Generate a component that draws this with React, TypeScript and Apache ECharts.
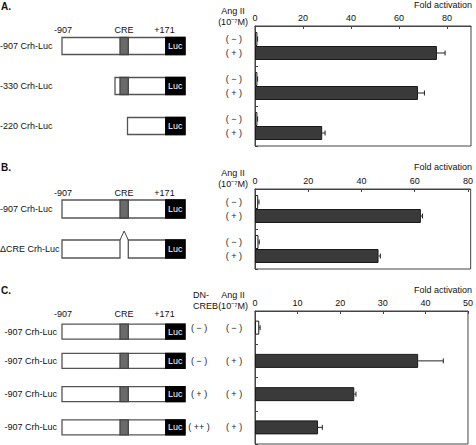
import React, { useEffect, useRef } from 'react';
import * as echarts from 'echarts';

const FONT = "'Liberation Sans', Arial, Helvetica, sans-serif";

// ---- Panel A data ----
const constructsA = ['-907 Crh-Luc', '-330 Crh-Luc', '-220 Crh-Luc'];
const angMinusA = [1.0, 1.0, 1.0];
const angMinusErrA = [0.1, 0.1, 0.1];
const angPlusA = [75.8, 67.9, 28.0];
const angPlusErrA = [3.4, 2.7, 1.2];

// ---- Panel B data ----
const constructsB = ['-907 Crh-Luc', '\u0394CRE Crh-Luc'];
const angMinusB = [1.2, 1.3];
const angMinusErrB = [0.3, 0.3];
const angPlusB = [62.3, 46.4];
const angPlusErrB = [0.6, 0.7];

// ---- Panel C data ----
const constructsC = ['-907 Crh-Luc', '-907 Crh-Luc', '-907 Crh-Luc', '-907 Crh-Luc'];
const dnCrebC = ['( \u2212 )', '( \u2212 )', '( + )', '( ++ )'];
const angIIC = ['( \u2212 )', '( + )', '( + )', '( + )'];
const valuesC = [1.0, 38.3, 23.3, 14.8];
const errC = [0.2, 5.9, 0.4, 1.0];

const MINUS = '( \u2212 )';
const PLUS = '( + )';
const DARK = '#3a3a3a';
const AXIS = '#444';

// layout (pixels)
const GL = 255;
const GW = 216;
const GA = { top: 26, height: 120 };
const GB = { top: 189, height: 80 };
const GC = { top: 311, height: 133 };
const BAR_W = 14;

const X_FULL = 62;
const X_END = 185;
const CRE_X0 = 120;
const CRE_X1 = 128.3;
const LUC_X0 = 165.7;

function centers(g: { top: number; height: number }, n: number) {
  return Array.from({ length: n }, (_, i) => g.top + (g.height / n) * (i + 0.5));
}

function txt(x: number, y: number, text: string, opts: any = {}) {
  return {
    type: 'text',
    x,
    y,
    silent: true,
    style: {
      text,
      fill: opts.fill || '#111',
      fontSize: opts.fontSize || 9,
      fontFamily: FONT,
      fontWeight: opts.fontWeight || 'normal',
      align: opts.align || 'center',
      verticalAlign: 'middle',
    },
  };
}

function rect(x: number, y: number, w: number, h: number, fill: string, stroke: string) {
  return {
    type: 'rect',
    silent: true,
    shape: { x, y, width: w, height: h },
    style: { fill, stroke, lineWidth: 1.3 },
  };
}

function construct(yc: number, h: number, startX: number, hasCRE: boolean, deleted = false) {
  const top = yc - h / 2;
  const els: any[] = [];
  if (!deleted) {
    els.push(rect(startX, top, X_END - startX, h, '#fff', '#555'));
    if (hasCRE) els.push(rect(CRE_X0, top, CRE_X1 - CRE_X0, h, '#6a6a6a', '#444'));
  } else {
    els.push(rect(X_FULL, top, CRE_X0 - X_FULL, h, '#fff', '#555'));
    els.push(rect(CRE_X1, top, X_END - CRE_X1, h, '#fff', '#555'));
    els.push({
      type: 'polyline',
      silent: true,
      shape: { points: [[CRE_X0, top], [(CRE_X0 + CRE_X1) / 2, top - 9], [CRE_X1, top]] },
      style: { stroke: '#444', lineWidth: 1, fill: 'none' },
    });
  }
  els.push(rect(LUC_X0, top, X_END - LUC_X0, h, '#000', '#000'));
  els.push(txt((LUC_X0 + X_END) / 2, yc, 'Luc', { fill: '#fff', fontSize: 9 }));
  return els;
}

function errorSeries(xi: number, data: number[][]) {
  return {
    type: 'custom',
    xAxisIndex: xi,
    yAxisIndex: xi,
    z: 10,
    silent: true,
    data,
    encode: { x: 0, y: 1 },
    renderItem: (params: any, api: any) => {
      const v = api.value(0);
      const cat = api.value(1);
      const e = api.value(2);
      const side = api.value(3);
      const s = api.coord([v, cat]);
      const t = api.coord([v + e, cat]);
      const y = s[1] + (side * BAR_W) / 2;
      return {
        type: 'group',
        children: [
          { type: 'line', shape: { x1: s[0], y1: y, x2: t[0], y2: y }, style: { stroke: '#222', lineWidth: 1 } },
          { type: 'line', shape: { x1: t[0], y1: y - 2.5, x2: t[0], y2: y + 2.5 }, style: { stroke: '#222', lineWidth: 1 } },
        ],
      };
    },
  };
}

function xAxisCfg(gi: number, max: number, interval: number, showMax: boolean) {
  return {
    type: 'value',
    gridIndex: gi,
    position: 'top',
    min: 0,
    max,
    interval,
    axisLine: { show: true, lineStyle: { color: AXIS, width: 1 } },
    axisTick: { show: true, inside: true, length: 3, lineStyle: { color: AXIS } },
    axisLabel: { fontSize: 9, color: '#111', margin: 4, fontFamily: FONT, showMaxLabel: showMax },
    splitLine: { show: false },
  };
}

function yAxisCfg(gi: number, data: string[], label: any = { show: false }) {
  return {
    type: 'category',
    gridIndex: gi,
    inverse: true,
    data,
    axisLine: { show: true, lineStyle: { color: AXIS, width: 1 } },
    axisTick: { show: true, inside: true, length: 3, lineStyle: { color: AXIS } },
    axisLabel: label,
    splitLine: { show: false },
  };
}

function barSeries(xi: number, data: any[], fill: string, lab: string) {
  return {
    type: 'bar',
    xAxisIndex: xi,
    yAxisIndex: xi,
    data,
    barWidth: BAR_W,
    barGap: '0%',
    itemStyle: { color: fill, borderColor: '#1a1a1a', borderWidth: 1 },
    label: {
      show: true,
      position: 'left',
      distance: 13,
      formatter: lab,
      fontSize: 9,
      color: '#222',
      fontFamily: FONT,
    },
  };
}

export default function App() {
  const ref = useRef<HTMLDivElement>(null);
  useEffect(() => {
    if (!ref.current) return;
    const chart = echarts.init(ref.current, null, { renderer: 'svg' });

    const cA = centers(GA, constructsA.length);
    const cB = centers(GB, constructsB.length);
    const cC = centers(GC, constructsC.length);
    const cCdraw = cC.map((c, i) => (i === 0 ? c + 4 : c));

    const graphics: any[] = [];
    // panel letters
    graphics.push(txt(1, 6, 'A.', { fontWeight: 'bold', fontSize: 10, align: 'left' }));
    graphics.push(txt(1, 167, 'B.', { fontWeight: 'bold', fontSize: 10, align: 'left' }));
    graphics.push(txt(1, 290, 'C.', { fontWeight: 'bold', fontSize: 10, align: 'left' }));

    // construct headers
    const hdr = (y: number) => {
      graphics.push(txt(63, y, '-907'));
      graphics.push(txt(124, y, 'CRE'));
      graphics.push(txt(164.5, y, '+171'));
    };
    hdr(29.5);
    hdr(192.5);
    hdr(314);

    // Ang II headers and fold activation
    const ang = (y1: number, y2: number) => {
      graphics.push(txt(233, y1, 'Ang II'));
      graphics.push(txt(233, y2, '(10\u207B\u2077M)'));
    };
    ang(11, 22);
    ang(173, 184);
    ang(295, 306);
    graphics.push(txt(193, 295, 'DN-', { align: 'left' }));
    graphics.push(txt(193, 306, 'CREB', { align: 'left' }));
    graphics.push(txt(472, 5, 'Fold activation', { align: 'right' }));
    graphics.push(txt(472, 167, 'Fold activation', { align: 'right' }));
    graphics.push(txt(472, 290, 'Fold activation', { align: 'right' }));

    // Panel A constructs
    constructsA.forEach((name, i) => graphics.push(txt(0, cA[i], name, { align: 'left' })));
    graphics.push(...construct(cA[0], 17, X_FULL, true));
    graphics.push(...construct(cA[1], 17, 115, true));
    graphics.push(...construct(cA[2], 17, 127.5, false));

    // Panel B constructs
    constructsB.forEach((name, i) => graphics.push(txt(0, cB[i], name, { align: 'left' })));
    graphics.push(...construct(cB[0], 18, X_FULL, true));
    graphics.push(...construct(cB[1], 18, X_FULL, false, true));

    // Panel C constructs
    constructsC.forEach((name, i) => {
      graphics.push(txt(57, cCdraw[i], name, { align: 'right' }));
      graphics.push(...construct(cCdraw[i], 15, X_FULL, true));
    });

    const catsC = dnCrebC.map((d, i) => d + '|' + angIIC[i]);

    const option: any = {
      animation: false,
      backgroundColor: '#fff',
      textStyle: { fontFamily: FONT },
      grid: [
        { left: GL, width: GW, top: GA.top, height: GA.height, show: true, borderColor: AXIS, borderWidth: 1 },
        { left: GL, width: GW, top: GB.top, height: GB.height, show: true, borderColor: AXIS, borderWidth: 1 },
        { left: GL, width: GW, top: GC.top, height: GC.height, show: true, borderColor: AXIS, borderWidth: 1 },
      ],
      xAxis: [xAxisCfg(0, 90, 20, false), xAxisCfg(1, 81, 20, false), xAxisCfg(2, 50, 10, true)],
      yAxis: [
        yAxisCfg(0, constructsA),
        yAxisCfg(1, constructsB),
        yAxisCfg(2, catsC, {
          show: true,
          margin: 8,
          fontFamily: FONT,
          formatter: (v: string) => {
            const [d, a] = v.split('|');
            return `{d|${d}}{a|${a}}`;
          },
          rich: {
            d: { width: 44, align: 'center', fontSize: 9, color: '#222', fontFamily: FONT },
            a: { width: 26, align: 'center', fontSize: 9, color: '#222', fontFamily: FONT },
          },
        }),
      ],
      series: [
        barSeries(0, angMinusA, '#fff', MINUS),
        barSeries(0, angPlusA, DARK, PLUS),
        errorSeries(0, [
          ...angMinusA.map((v, i) => [v, i, angMinusErrA[i], -1]),
          ...angPlusA.map((v, i) => [v, i, angPlusErrA[i], 1]),
        ]),
        barSeries(1, angMinusB, '#fff', MINUS),
        barSeries(1, angPlusB, DARK, PLUS),
        errorSeries(1, [
          ...angMinusB.map((v, i) => [v, i, angMinusErrB[i], -1]),
          ...angPlusB.map((v, i) => [v, i, angPlusErrB[i], 1]),
        ]),
        {
          type: 'bar',
          xAxisIndex: 2,
          yAxisIndex: 2,
          barWidth: BAR_W,
          data: valuesC.map((v, i) => ({
            value: v,
            itemStyle: { color: angIIC[i] === MINUS ? '#fff' : DARK, borderColor: '#1a1a1a', borderWidth: 1 },
          })),
        },
        errorSeries(2, valuesC.map((v, i) => [v, i, errC[i], 0])),
      ],
      graphic: graphics,
    };
    chart.setOption(option);
    return () => chart.dispose();
  }, []);

  return (
    <div
      ref={ref}
      style={{ position: 'absolute', left: 0, top: 0, width: 476, height: 445, background: '#fff' }}
    />
  );
}
